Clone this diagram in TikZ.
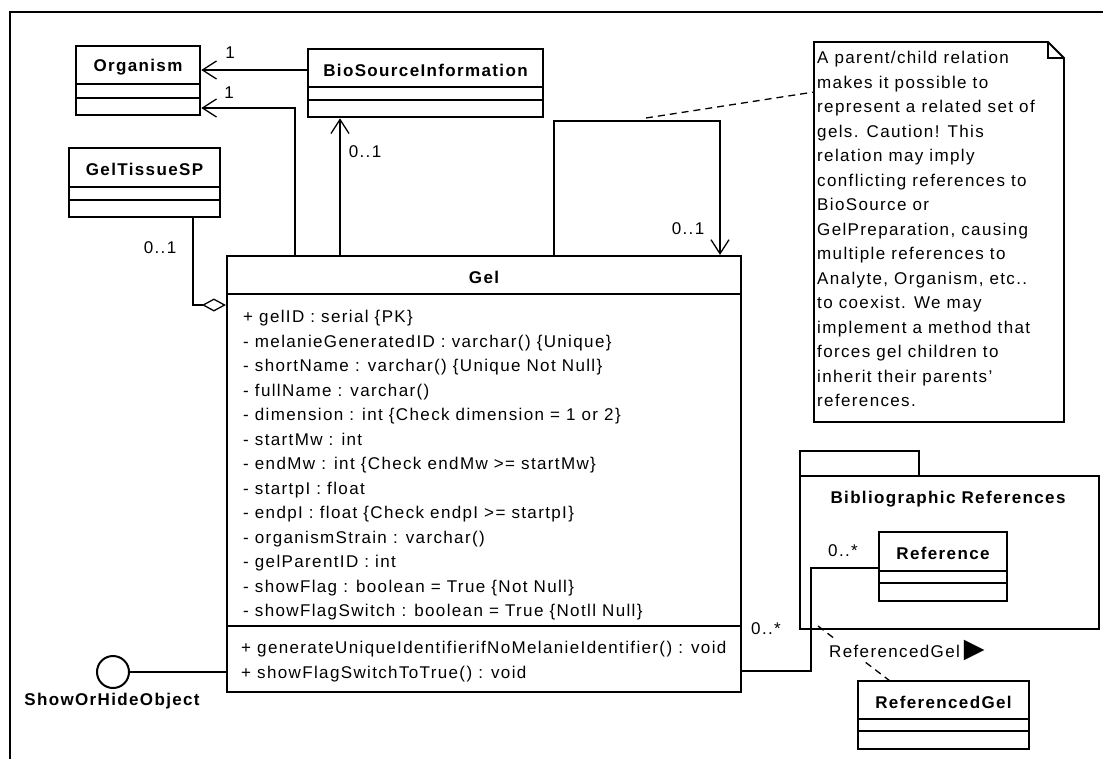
\documentclass[tikz,border=0pt]{standalone}
\usepackage{fontspec}
\setmainfont{Liberation Sans}[LetterSpace=8]
\newfontfamily\glyphfont{DejaVu Sans}
\usetikzlibrary{arrows.meta,fit}

\tikzset{
  txt/.style={font=\fontsize{17}{20}\selectfont, inner sep=0pt},
  classbox/.style={draw, line width=2.6pt, inner sep=0pt},
  compline/.style={line width=1.4pt},
  classtitle/.style={inner sep=0pt, font=\fontsize{17}{20}\selectfont\bfseries},
  member/.style={txt, anchor=base west},
  mult/.style={txt},
  conn/.style={line width=1.3pt},
  openarrow/.style={conn, -{Straight Barb[length=14pt,width=18pt]}},
  aggregation/.style={conn, -{Diamond[open,length=24pt,width=13pt]}},
  notelink/.style={line width=1.3pt, dash pattern=on 7pt off 5pt},
  pkgbox/.style={draw, line width=2.6pt, inner sep=0pt},
}

% class box with name, attribute and operation compartments
% #1 name, #2 left, #3 top, #4 right, #5 bottom, #6 first rule, #7 second rule, #8 title
\newcommand\umlclass[8]{%
  \node[classbox, fit={(#2,#3)(#4,#5)}] (#1) {};
  \draw[compline] (#2,#6) -- (#4,#6);
  \draw[compline] (#2,#7) -- (#4,#7);
  \node[classtitle] (#1-title) at ({(#2+#4)/2},{(#3+#6)/2+2}) {#8};
}

\begin{document}
\begin{tikzpicture}[x=1pt,y=-1pt]
\useasboundingbox (0,0) rectangle (1103,758);
\clip (0,0) rectangle (1103,758);
\fill[white] (0,0) rectangle (1103,758);

% diagram frame
\draw[line width=2pt] (10,770) -- (10,12) -- (1110,12);

% classes
\umlclass{org}{76}{46}{200}{115}{84}{98}{Organism}
\umlclass{bio}{308}{49}{543}{117}{87}{100}{BioSourceInformation}
\umlclass{tissue}{69}{148}{220}{217}{187}{200}{GelTissueSP}

% Gel class
\node[classbox, line width=2.2pt, fit={(227,256)(741,692)}] (gel) {};
\draw[line width=1.8pt] (227,294) -- (741,294);
\draw[line width=1.8pt] (227,626) -- (741,626);
\node[classtitle] (gel-title) at (484,277) {Gel};
\foreach \t [count=\i from 0] in {%
  + gelID : serial \{PK\},
  - melanieGeneratedID : varchar() \{Unique\},
  - shortName : varchar() \{Unique Not Null\},
  - fullName : varchar(),
  - dimension : int \{Check dimension = 1 or 2\},
  - startMw : int,
  - endMw : int \{Check endMw >= startMw\},
  - startpI : float,
  - endpI : float \{Check endpI >= startpI\},
  - organismStrain : varchar(),
  - gelParentID : int,
  - showFlag : boolean = True \{Not Null\},
  - showFlagSwitch : boolean = True \{Notll Null\}}
  \node[member] (gel-attr-\i) at (243,{322.5+24.5*\i}) {\t};
\node[member] (gel-op-0) at (241,653) {+ generateUniqueIdentifierifNoMelanieIdentifier() : void};
\node[member] (gel-op-1) at (241,678) {+ showFlagSwitchToTrue() : void};

% provided interface
\node[circle, draw, line width=2pt, minimum size=32pt, inner sep=0pt] (iface) at (113,672) {};
\node[classtitle] (iface-label) at (112,701) {ShowOrHideObject};
\draw[conn] (iface.east) -- (gel.west |- iface.east);

% note
\node[inner sep=0pt, fit={(814,42)(1064,422)}] (note) {};
\draw[line width=1.8pt] (814,42) -- (1048,42) -- (1064,58) -- (1064,422) -- (814,422) -- cycle;
\draw[line width=1.3pt] (1048,42) -- (1048,58) -- (1064,58);
\foreach \t [count=\i from 0] in {%
  A parent/child relation,
  makes it possible to,
  represent a related set of,
  gels. Caution! This,
  relation may imply,
  conflicting references to,
  BioSource or,
  {GelPreparation, causing},
  multiple references to,
  {Analyte, Organism, etc..},
  to coexist. We may,
  implement a method that,
  forces gel children to,
  inherit their parents',
  references.}
  \node[member] (note-line-\i) at (817,{63.5+24.5*\i}) {\t};

% package
\node[pkgbox, fit={(800,451)(919,476)}] (pkgtab) {};
\node[pkgbox, fit={(800,476)(1099,629)}] (pkg) {};
\node[classtitle] (pkg-title) at (948,499) {Bibliographic References};
\umlclass{ref}{879}{532}{1007}{601}{571}{583}{Reference}

\umlclass{refgel}{858}{681}{1029}{749}{719}{731}{ReferencedGel}

% associations
\coordinate (bioOut) at (308,70);
\draw[openarrow] (bioOut) -- (bioOut -| org.east);
\node[mult] (m-org-1) at (230,53) {1};

\coordinate (gelOrgBend) at (295,108);
\draw[openarrow] (gel.north -| gelOrgBend) -- (gelOrgBend) -- (gelOrgBend -| org.east);
\node[mult] (m-org-2) at (229,93) {1};

\coordinate (gelBioX) at (340,200);
\draw[openarrow] (gel.north -| gelBioX) -- (bio.south -| gelBioX);
\node[mult] (m-bio) at (365,152) {0..1};

\coordinate (loopL) at (554,121);
\coordinate (loopR) at (720,121);
\draw[openarrow] (gel.north -| loopL) -- (loopL) -- (loopR) -- (gel.north -| loopR);
\node[mult] (m-parent) at (688,229) {0..1};

\coordinate (loopNote) at (646,118);
\coordinate (noteIn) at (814,92);
\draw[notelink] (loopNote) -- (noteIn);

\coordinate (aggBend) at (193,305);
\draw[aggregation] (tissue.south -| aggBend) -- (aggBend) -- (aggBend -| gel.west);
\node[mult] (m-tissue) at (160,248) {0..1};

\coordinate (refBend1) at (811,568);
\coordinate (refBend2) at (811,671);
\draw[conn] (ref.west |- refBend1) -- (refBend1) -- (refBend2) -- (refBend2 -| gel.east);
\node[mult] (m-ref) at (843,551) {0..*};
\node[mult] (m-gel) at (766,629) {0..*};

% association class link
\coordinate (assocPt) at (818,626);
\coordinate (rgTop) at (890,681);
\draw[notelink] (assocPt) -- (rgTop);
\node[txt, anchor=base west, fill=white, inner sep=1pt] (assoc-label) at (828,657)
  {ReferencedGel\hspace{4pt}{\glyphfont\fontsize{27}{27}\selectfont ▶}};
\end{tikzpicture}
\end{document}
